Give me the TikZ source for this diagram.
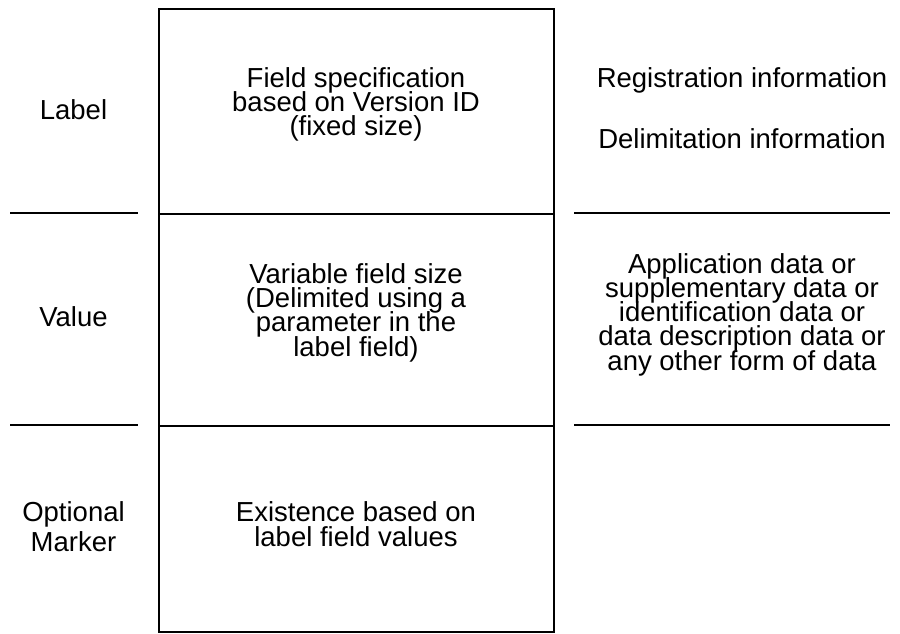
\documentclass[tikz,border=0pt]{standalone}
\usepackage{fontspec}
\setmainfont{Liberation Sans}
\AtBeginDocument{\setlength{\lineskiplimit}{-40pt}}
\begin{document}
\begin{tikzpicture}[x=1pt,y=-1pt,
  txt/.style={align=center,inner sep=0pt,anchor=base,font=\fontsize{27.5}{24.3}\selectfont},
  wide/.style={font=\fontsize{27.5}{30}\selectfont},
  part/.style={draw,line width=2pt,minimum width=395pt,inner sep=0pt},
  rule/.style={line width=2pt}]
\useasboundingbox (0,0) rectangle (900,633);
% central column
\node[part,minimum height=205pt,anchor=north west] (lab) at (158,8) {};
\node[part,minimum height=212pt,anchor=north west] (val) at (158,213) {};
\node[part,minimum height=206pt,anchor=north west] (opt) at (158,425) {};
% left rules
\coordinate (l1a) at (10,213); \coordinate (l1b) at (138,213);
\coordinate (l2a) at (10,425); \coordinate (l2b) at (138,425);
\draw[rule] (l1a) -- (l1b);
\draw[rule] (l2a) -- (l2b);
% right rules
\coordinate (r1a) at (574,213); \coordinate (r1b) at (890,213);
\coordinate (r2a) at (574,425); \coordinate (r2b) at (890,425);
\draw[rule] (r1a) -- (r1b);
\draw[rule] (r2a) -- (r2b);
% left labels (anchor = baseline of the last line)
\node[txt] (tlab) at (73.5,119.3) {Label};
\node[txt] (tval) at (73.5,326.7) {Value};
\node[txt,wide] (topt) at (73.5,551.7) {Optional\\Marker};
% centre texts
\node[txt] (clab) at (356,135.9) {Field specification\\based on Version ID\\(fixed size)};
\node[txt] (cval) at (356,356.2) {Variable field size\\(Delimited using a\\parameter in the\\label field)};
\node[txt] (copt) at (356,546) {Existence based on\\label field values};
% right texts
\node[txt] (rreg) at (742,87.3) {Registration information};
\node[txt] (rdel) at (742,148.3) {Delimitation information};
\node[txt] (rval) at (742,370.2) {Application data or\\supplementary data or\\identification data or\\data description data or\\any other form of data};
\end{tikzpicture}
\end{document}
